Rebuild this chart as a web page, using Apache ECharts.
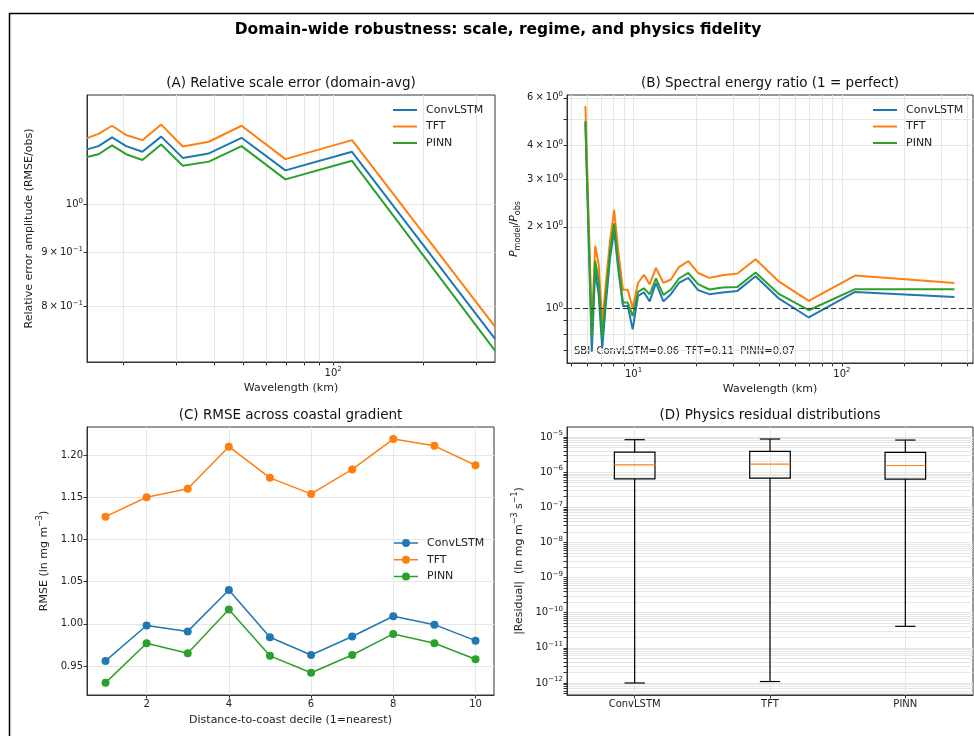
<!DOCTYPE html>
<html>
<head>
<meta charset="utf-8">
<script src="https://cdn.jsdelivr.net/npm/echarts@6/dist/echarts.min.js"></script>
<style>
  html, body { margin: 0; padding: 0; background: #ffffff; }
  #chart { width: 974px; height: 736px; }
</style>
</head>
<body>
<div id="chart"></div>
<script>
const FONT = 'DejaVu Sans';
const models = ['ConvLSTM', 'TFT', 'PINN'];
const palette = ['#1f77b4', '#ff7f0e', '#2ca02c'];

// (A) relative scale error, domain average
const wavelengthA = [15.1, 16.5, 18.3, 20.4, 23.1, 26.7, 31.5, 38.5, 49.5, 69.3, 115.6, 346.7];
const scaleErrConvLSTM = [1.129, 1.137, 1.159, 1.137, 1.123, 1.161, 1.108, 1.119, 1.158, 1.078, 1.123, 0.745];
const scaleErrTFT      = [1.157, 1.168, 1.189, 1.165, 1.152, 1.192, 1.136, 1.148, 1.189, 1.105, 1.152, 0.765];
const scaleErrPINN     = [1.110, 1.117, 1.139, 1.117, 1.103, 1.141, 1.089, 1.099, 1.137, 1.057, 1.101, 0.726];

// (B) spectral energy ratio P_model / P_obs
const wavelengthB = [5.87, 6.08, 6.30, 6.54, 6.80, 7.07, 7.37, 7.70, 8.06, 8.45, 8.89, 9.37, 9.90, 10.5, 11.2,
                     11.95, 12.8, 13.9, 15.1, 16.5, 18.3, 20.4, 23.1, 26.7, 31.5, 38.5, 49.5, 69.3, 115.6, 346.7];
const energyConvLSTM = [4.85, 1.83, 0.69, 1.38, 1.12, 0.71, 1.05, 1.52, 1.95, 1.38, 1.02, 1.02, 0.835, 1.11, 1.145,
                        1.06, 1.24, 1.06, 1.127, 1.24, 1.295, 1.166, 1.127, 1.143, 1.159, 1.314, 1.09, 0.924, 1.149, 1.10];
const energyTFT      = [5.60, 2.19, 0.86, 1.70, 1.45, 0.88, 1.25, 1.76, 2.31, 1.62, 1.17, 1.17, 1.00, 1.24, 1.33,
                        1.225, 1.41, 1.24, 1.277, 1.42, 1.493, 1.35, 1.295, 1.325, 1.344, 1.518, 1.26, 1.064, 1.32, 1.24];
const energyPINN     = [4.93, 1.96, 0.78, 1.50, 1.25, 0.78, 1.12, 1.62, 2.06, 1.45, 1.05, 1.05, 0.935, 1.15, 1.185,
                        1.125, 1.29, 1.12, 1.173, 1.288, 1.35, 1.227, 1.173, 1.193, 1.199, 1.356, 1.133, 0.983, 1.176, 1.176];
const sbiText = 'SBI  ConvLSTM=0.06  TFT=0.11  PINN=0.07';

// (C) RMSE per distance-to-coast decile
const deciles = [1, 2, 3, 4, 5, 6, 7, 8, 9, 10];
const rmseConvLSTM = [0.956, 0.998, 0.991, 1.040, 0.984, 0.963, 0.985, 1.009, 0.999, 0.980];
const rmseTFT      = [1.127, 1.150, 1.160, 1.210, 1.173, 1.154, 1.183, 1.219, 1.211, 1.188];
const rmsePINN     = [0.930, 0.977, 0.965, 1.017, 0.962, 0.942, 0.963, 0.988, 0.977, 0.958];

// (D) physics residual box statistics (whisker low, Q1, median, Q3, whisker high)
const residualLow    = [1.0e-12, 1.1e-12, 4.1e-11];
const residualQ1     = [6.45e-7, 6.8e-7, 6.3e-7];
const residualMedian = [1.62e-6, 1.70e-6, 1.55e-6];
const residualQ3     = [3.74e-6, 3.9e-6, 3.64e-6];
const residualHigh   = [8.4e-6, 8.77e-6, 8.2e-6];

// tick values
const ticksAx = [20, 30, 40, 50, 60, 70, 80, 90, 100, 200, 300];
const labelsAx = [100];
const ticksAy = [0.8, 0.9, 1];
const ticksBx = [5, 6, 7, 8, 9, 10, 20, 30, 40, 50, 60, 70, 80, 90, 100, 200, 300, 400];
const labelsBx = [10, 100];
const ticksBy = [0.7, 0.8, 0.9, 1, 2, 3, 4, 5, 6];
const labelsBy = [1, 2, 3, 4, 6];
const ticksCx = [2, 4, 6, 8, 10];
const ticksCy = [0.95, 1.00, 1.05, 1.10, 1.15, 1.20];
const decadesD = [-12, -11, -10, -9, -8, -7, -6, -5];

// log-axis minor ticks: 1..9 x 10^e for each decade
const ticksDy = [];
for (const e of [-13].concat(decadesD)) {
  for (let m = 1; m <= 9; m++) ticksDy.push(Number((m * Math.pow(10, e)).toPrecision(3)));
}
const labelsDy = decadesD.map(e => Number(Math.pow(10, e).toPrecision(3)));

function sciLabel(v) {
  const e = Math.floor(Math.log10(v) + 1e-9);
  const m = Math.round(v / Math.pow(10, e));
  const exp = e < 0 ? '\u2212' + (-e) : String(e);
  return (m === 1 ? '{b|10}' : '{b|' + m + '\u2009\u00d7\u200910}') + '{s|' + exp + '}';
}

const tickRich = {
  b: { fontSize: 10, fontFamily: FONT, color: '#222', lineHeight: 14 },
  s: { fontSize: 7, fontFamily: FONT, color: '#222', lineHeight: 6, verticalAlign: 'top' }
};
const nameRich = {
  n: { fontSize: 11, fontFamily: FONT, color: '#222', lineHeight: 16 },
  sup: { fontSize: 8, fontFamily: FONT, color: '#222', lineHeight: 7, verticalAlign: 'top' },
  i: { fontSize: 11, fontFamily: FONT, fontStyle: 'italic', color: '#222', lineHeight: 16 },
  sub: { fontSize: 8, fontFamily: FONT, color: '#222', lineHeight: 10, verticalAlign: 'bottom' }
};

function makeAxis(o) {
  return {
    type: o.type,
    gridIndex: o.grid,
    min: o.min,
    max: o.max,
    logBase: 10,
    name: o.name,
    nameLocation: 'middle',
    nameGap: o.nameGap,
    nameTextStyle: { color: '#222', fontSize: 11, fontFamily: FONT, rich: nameRich },
    axisLine: { show: true, onZero: false, lineStyle: { color: '#333', width: 1 } },
    axisTick: { show: true, inside: false, length: 3.5, lineStyle: { color: '#333', width: 1 }, customValues: o.ticks },
    axisLabel: {
      show: true, color: '#222', fontSize: 10, fontFamily: FONT, margin: 4,
      customValues: o.labels, formatter: o.formatter, rich: tickRich, hideOverlap: false
    },
    splitLine: { show: true, lineStyle: { color: '#e6e6e6', width: 1 } },
    minorTick: { show: false },
    minorSplitLine: { show: false }
  };
}

function pairs(xs, ys) { return xs.map((x, i) => [x, ys[i]]); }

function lineSeries(name, idx, xs, ys, colorIdx, withMarkers) {
  return {
    type: 'line', name: name, xAxisIndex: idx, yAxisIndex: idx,
    data: pairs(xs, ys),
    symbol: withMarkers ? 'circle' : 'none',
    symbolSize: 8,
    showSymbol: !!withMarkers,
    itemStyle: { color: palette[colorIdx] },
    lineStyle: { color: palette[colorIdx], width: withMarkers ? 1.5 : 2 },
    emphasis: { disabled: true },
    animation: false,
    z: 3
  };
}

const lineIcon = 'path://M0,0H24V2H0Z';
const markerIcon = 'path://M0,4.25H24V5.75H0Z M16,5A4,4 0 1 1 8,5A4,4 0 1 1 16,5Z';

function legendAt(left, top, icon) {
  return {
    orient: 'vertical', left: left, top: top, padding: 0,
    itemWidth: 24, itemHeight: icon === lineIcon ? 2 : 10, itemGap: icon === lineIcon ? 2.5 : 2.7,
    selectedMode: false,
    itemStyle: { borderWidth: 0 },
    textStyle: { color: '#222', fontSize: 11, fontFamily: FONT, lineHeight: 14, padding: [0, 0, 0, 4] },
    data: models.map(n => ({ name: n, icon: icon }))
  };
}

const chart = echarts.init(document.getElementById('chart'));

const option = {
  animation: false,
  backgroundColor: '#ffffff',
  grid: [
    { left: 87, top: 95, width: 408, height: 267 },
    { left: 567, top: 95, width: 406, height: 268 },
    { left: 87, top: 427, width: 407, height: 268 },
    { left: 567, top: 427, width: 406, height: 268 }
  ].map(g => Object.assign(g, { show: true, borderColor: '#333', borderWidth: 1, backgroundColor: 'transparent' })),
  xAxis: [
    makeAxis({ type: 'log', grid: 0, min: 15.1, max: 346.7, name: 'Wavelength (km)', nameGap: 21,
               ticks: ticksAx, labels: labelsAx, formatter: sciLabel }),
    makeAxis({ type: 'log', grid: 1, min: 4.79, max: 425.6, name: 'Wavelength (km)', nameGap: 21,
               ticks: ticksBx, labels: labelsBx, formatter: sciLabel }),
    makeAxis({ type: 'value', grid: 2, min: 0.55, max: 10.45, name: 'Distance-to-coast decile (1=nearest)', nameGap: 20,
               ticks: ticksCx, labels: ticksCx, formatter: v => String(v) }),
    makeAxis({ type: 'value', grid: 3, min: 0.5, max: 3.5, name: '', nameGap: 20,
               ticks: [1, 2, 3], labels: [1, 2, 3], formatter: v => models[Math.round(v) - 1] })
  ],
  yAxis: [
    makeAxis({ type: 'log', grid: 0, min: 0.708, max: 1.272, name: 'Relative error amplitude (RMSE/obs)', nameGap: 52,
               ticks: ticksAy, labels: ticksAy, formatter: sciLabel }),
    makeAxis({ type: 'log', grid: 1, min: 0.627, max: 6.15, name: '{i|P}{sub|model}{n|/}{i|P}{sub|obs}', nameGap: 45,
               ticks: ticksBy, labels: labelsBy, formatter: sciLabel }),
    makeAxis({ type: 'value', grid: 2, min: 0.9156, max: 1.2333, name: '{n|RMSE (ln mg m}{sup|\u22123}{n|)}', nameGap: 35,
               ticks: ticksCy, labels: ticksCy, formatter: v => v.toFixed(2) }),
    makeAxis({ type: 'log', grid: 3, min: 4.55e-13, max: 1.93e-5,
               name: '{n||Residual|  (ln mg m}{sup|\u22123}{n| s}{sup|\u22121}{n|)}', nameGap: 40,
               ticks: ticksDy, labels: labelsDy, formatter: sciLabel })
  ],
  legend: [
    legendAt(393, 103, lineIcon),
    legendAt(873, 103, lineIcon),
    legendAt(394, 536, markerIcon)
  ],
  graphic: [
    { type: 'text', x: 498, y: 30, z: 10,
      style: { text: 'Domain-wide robustness: scale, regime, and physics fidelity', fontSize: 15.5,
               fontWeight: 'bold', fontFamily: FONT, fill: '#000', align: 'center', verticalAlign: 'middle' } },
    { type: 'text', x: 291, y: 83, z: 10,
      style: { text: '(A) Relative scale error (domain-avg)', fontSize: 13.5, fontFamily: FONT, fill: '#111',
               align: 'center', verticalAlign: 'middle' } },
    { type: 'text', x: 770, y: 83, z: 10,
      style: { text: '(B) Spectral energy ratio (1 = perfect)', fontSize: 13.5, fontFamily: FONT, fill: '#111',
               align: 'center', verticalAlign: 'middle' } },
    { type: 'text', x: 290.5, y: 415.5, z: 10,
      style: { text: '(C) RMSE across coastal gradient', fontSize: 13.5, fontFamily: FONT, fill: '#111',
               align: 'center', verticalAlign: 'middle' } },
    { type: 'text', x: 770, y: 415.5, z: 10,
      style: { text: '(D) Physics residual distributions', fontSize: 13.5, fontFamily: FONT, fill: '#111',
               align: 'center', verticalAlign: 'middle' } },
    { type: 'text', x: 574, y: 351, z: 0,
      style: { text: sbiText, fontSize: 10, fontFamily: FONT, fill: '#222', align: 'left', verticalAlign: 'middle' } },
    { type: 'polyline', z: 10,
      shape: { points: [[9.5, 740], [9.5, 13.5], [980, 13.5]] },
      style: { stroke: '#000', lineWidth: 1.5, fill: null } }
  ],
  series: [
    lineSeries('ConvLSTM', 0, wavelengthA, scaleErrConvLSTM, 0, false),
    lineSeries('TFT', 0, wavelengthA, scaleErrTFT, 1, false),
    lineSeries('PINN', 0, wavelengthA, scaleErrPINN, 2, false),
    lineSeries('ConvLSTM', 1, wavelengthB, energyConvLSTM, 0, false),
    lineSeries('TFT', 1, wavelengthB, energyTFT, 1, false),
    Object.assign(lineSeries('PINN', 1, wavelengthB, energyPINN, 2, false), {
      markLine: {
        silent: true, symbol: ['none', 'none'], animation: false,
        label: { show: false },
        lineStyle: { color: '#333', type: [5, 3], width: 1.2 },
        emphasis: { disabled: true },
        data: [{ yAxis: 1 }]
      }
    }),
    lineSeries('ConvLSTM', 2, deciles, rmseConvLSTM, 0, true),
    lineSeries('TFT', 2, deciles, rmseTFT, 1, true),
    lineSeries('PINN', 2, deciles, rmsePINN, 2, true),
    {
      type: 'custom', name: 'residuals', xAxisIndex: 3, yAxisIndex: 3,
      data: models.map((m, i) => [i + 1, residualLow[i], residualQ1[i], residualMedian[i], residualQ3[i], residualHigh[i]]),
      encode: { x: 0, y: [1, 2, 3, 4, 5] },
      animation: false,
      z: 3,
      renderItem: function (params, api) {
        const x = api.value(0);
        const lo = api.value(1), q1 = api.value(2), med = api.value(3), q3 = api.value(4), hi = api.value(5);
        const p = (dx, v) => api.coord([x + dx, v]);
        const seg = (a, b, color) => ({
          type: 'line', shape: { x1: a[0], y1: a[1], x2: b[0], y2: b[1] },
          style: { stroke: color || '#000', lineWidth: 1.2 }
        });
        const boxTL = p(-0.15, q3), boxBR = p(0.15, q1);
        return {
          type: 'group',
          children: [
            seg(p(0, lo), p(0, q1)),
            seg(p(0, q3), p(0, hi)),
            seg(p(-0.075, lo), p(0.075, lo)),
            seg(p(-0.075, hi), p(0.075, hi)),
            { type: 'rect', shape: { x: boxTL[0], y: boxTL[1], width: boxBR[0] - boxTL[0], height: boxBR[1] - boxTL[1] },
              style: { fill: null, stroke: '#000', lineWidth: 1.2 } },
            seg(p(-0.15, med), p(0.15, med), '#ff7f0e')
          ]
        };
      }
    }
  ]
};

chart.setOption(option);
</script>
</body>
</html>
